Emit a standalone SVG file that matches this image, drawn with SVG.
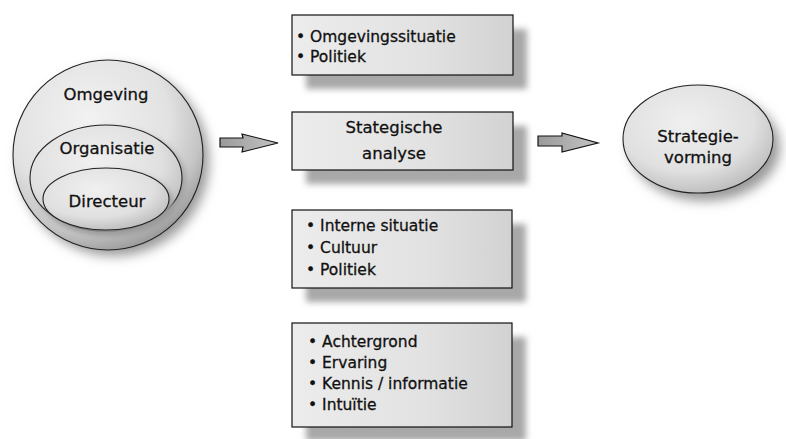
<svg xmlns="http://www.w3.org/2000/svg" width="786" height="439" viewBox="0 0 786 439">
<style>
  .t { font-family: "DejaVu Sans", "Liberation Sans", sans-serif; fill: #111; stroke: #111; stroke-width: 0.3; }
  .big { font-size: 16.5px; text-anchor: middle; }
  .lst { font-size: 15.5px; }
  .box { fill: url(#boxg); stroke: #111; stroke-width: 1.2; }
  .shad { fill: #a8a8a8; filter: url(#blur); }
  .arrow { fill: url(#arrg); stroke: #111; stroke-width: 1.2; stroke-linejoin: miter; }
</style>
<defs>
  <filter id="blur" x="-20%" y="-20%" width="140%" height="140%">
    <feGaussianBlur stdDeviation="3"/>
  </filter>
  <filter id="blur6" x="-30%" y="-30%" width="160%" height="160%">
    <feGaussianBlur stdDeviation="6"/>
  </filter>
  <linearGradient id="boxg" x1="0" y1="0" x2="1" y2="0">
    <stop offset="0" stop-color="#ececec"/>
    <stop offset="0.6" stop-color="#e2e2e2"/>
    <stop offset="1" stop-color="#d2d2d2"/>
  </linearGradient>
  <linearGradient id="arrg" x1="0" y1="0" x2="1" y2="0">
    <stop offset="0" stop-color="#9a9a9a"/>
    <stop offset="1" stop-color="#c4c4c4"/>
  </linearGradient>
  <radialGradient id="sph" cx="0.4" cy="0.32" r="0.7">
    <stop offset="0" stop-color="#f2f2f2"/>
    <stop offset="0.6" stop-color="#e2e2e2"/>
    <stop offset="0.85" stop-color="#c4c4c4"/>
    <stop offset="1" stop-color="#9c9c9c"/>
  </radialGradient>
  <radialGradient id="ell" cx="0.42" cy="0.35" r="0.75">
    <stop offset="0" stop-color="#f0f0f0"/>
    <stop offset="0.6" stop-color="#e0e0e0"/>
    <stop offset="0.9" stop-color="#bdbdbd"/>
    <stop offset="1" stop-color="#a0a0a0"/>
  </radialGradient>
</defs>
<rect width="786" height="439" fill="#ffffff"/>

<g id="omgeving">
  <circle cx="114" cy="161" r="95" fill="#9a9a9a" filter="url(#blur6)"/>
  <circle cx="108" cy="155" r="95" fill="url(#sph)" stroke="#222" stroke-width="1.1"/>
  <text class="t big" x="106" y="100">Omgeving</text>
</g>
<g id="organisatie">
  <ellipse cx="110" cy="182" rx="76" ry="53" fill="#a0a0a0" filter="url(#blur)"/>
  <ellipse cx="106" cy="178" rx="76" ry="53" fill="url(#ell)" stroke="#222" stroke-width="1.1"/>
  <text class="t big" x="107" y="154">Organisatie</text>
</g>
<g id="directeur">
  <ellipse cx="110" cy="203" rx="63" ry="31" fill="#9a9a9a" filter="url(#blur)"/>
  <ellipse cx="106" cy="199" rx="63" ry="31" fill="url(#ell)" stroke="#222" stroke-width="1.1"/>
  <text class="t big" x="107" y="207">Directeur</text>
</g>

<g id="box-omgevingssituatie">
  <rect class="shad" x="306" y="29" width="221" height="60"/>
  <rect class="box" x="292" y="15" width="221" height="60"/>
  <text class="t lst" x="296" y="42">• Omgevingssituatie</text>
  <text class="t lst" x="296" y="62">• Politiek</text>
</g>
<g id="box-analyse">
  <rect class="shad" x="306" y="126" width="221" height="58"/>
  <rect class="box" x="292" y="112" width="221" height="58"/>
  <text class="t big" x="394" y="133">Stategische</text>
  <text class="t big" x="394" y="159">analyse</text>
</g>
<g id="box-intern">
  <rect class="shad" x="306" y="224" width="220" height="78"/>
  <rect class="box" x="292" y="210" width="220" height="78"/>
  <text class="t lst" x="306" y="231">• Interne situatie</text>
  <text class="t lst" x="306" y="253">• Cultuur</text>
  <text class="t lst" x="306" y="275">• Politiek</text>
</g>
<g id="box-directeur">
  <rect class="shad" x="306" y="337" width="220" height="104"/>
  <rect class="box" x="292" y="323" width="220" height="104"/>
  <text class="t lst" x="308" y="347">• Achtergrond</text>
  <text class="t lst" x="308" y="368">• Ervaring</text>
  <text class="t lst" x="308" y="389">• Kennis / informatie</text>
  <text class="t lst" x="308" y="410">• Intuïtie</text>
</g>

<g id="strategievorming">
  <ellipse cx="705" cy="147" rx="75" ry="54" fill="#9a9a9a" filter="url(#blur6)"/>
  <ellipse cx="698" cy="139" rx="75" ry="54" fill="url(#ell)" stroke="#222" stroke-width="1.1"/>
  <text class="t big" x="698" y="142">Strategie-</text>
  <text class="t big" x="698" y="163">vorming</text>
</g>

<g id="connectors">
  <path class="arrow" d="M220,138 L243,138 L242,134 L278,143 L242,152 L243,147 L220,147 Z"/>
  <path class="arrow" d="M538,136 L562,136 L562,133 L598,143 L562,152 L562,146 L538,146 Z"/>
</g>
</svg>
